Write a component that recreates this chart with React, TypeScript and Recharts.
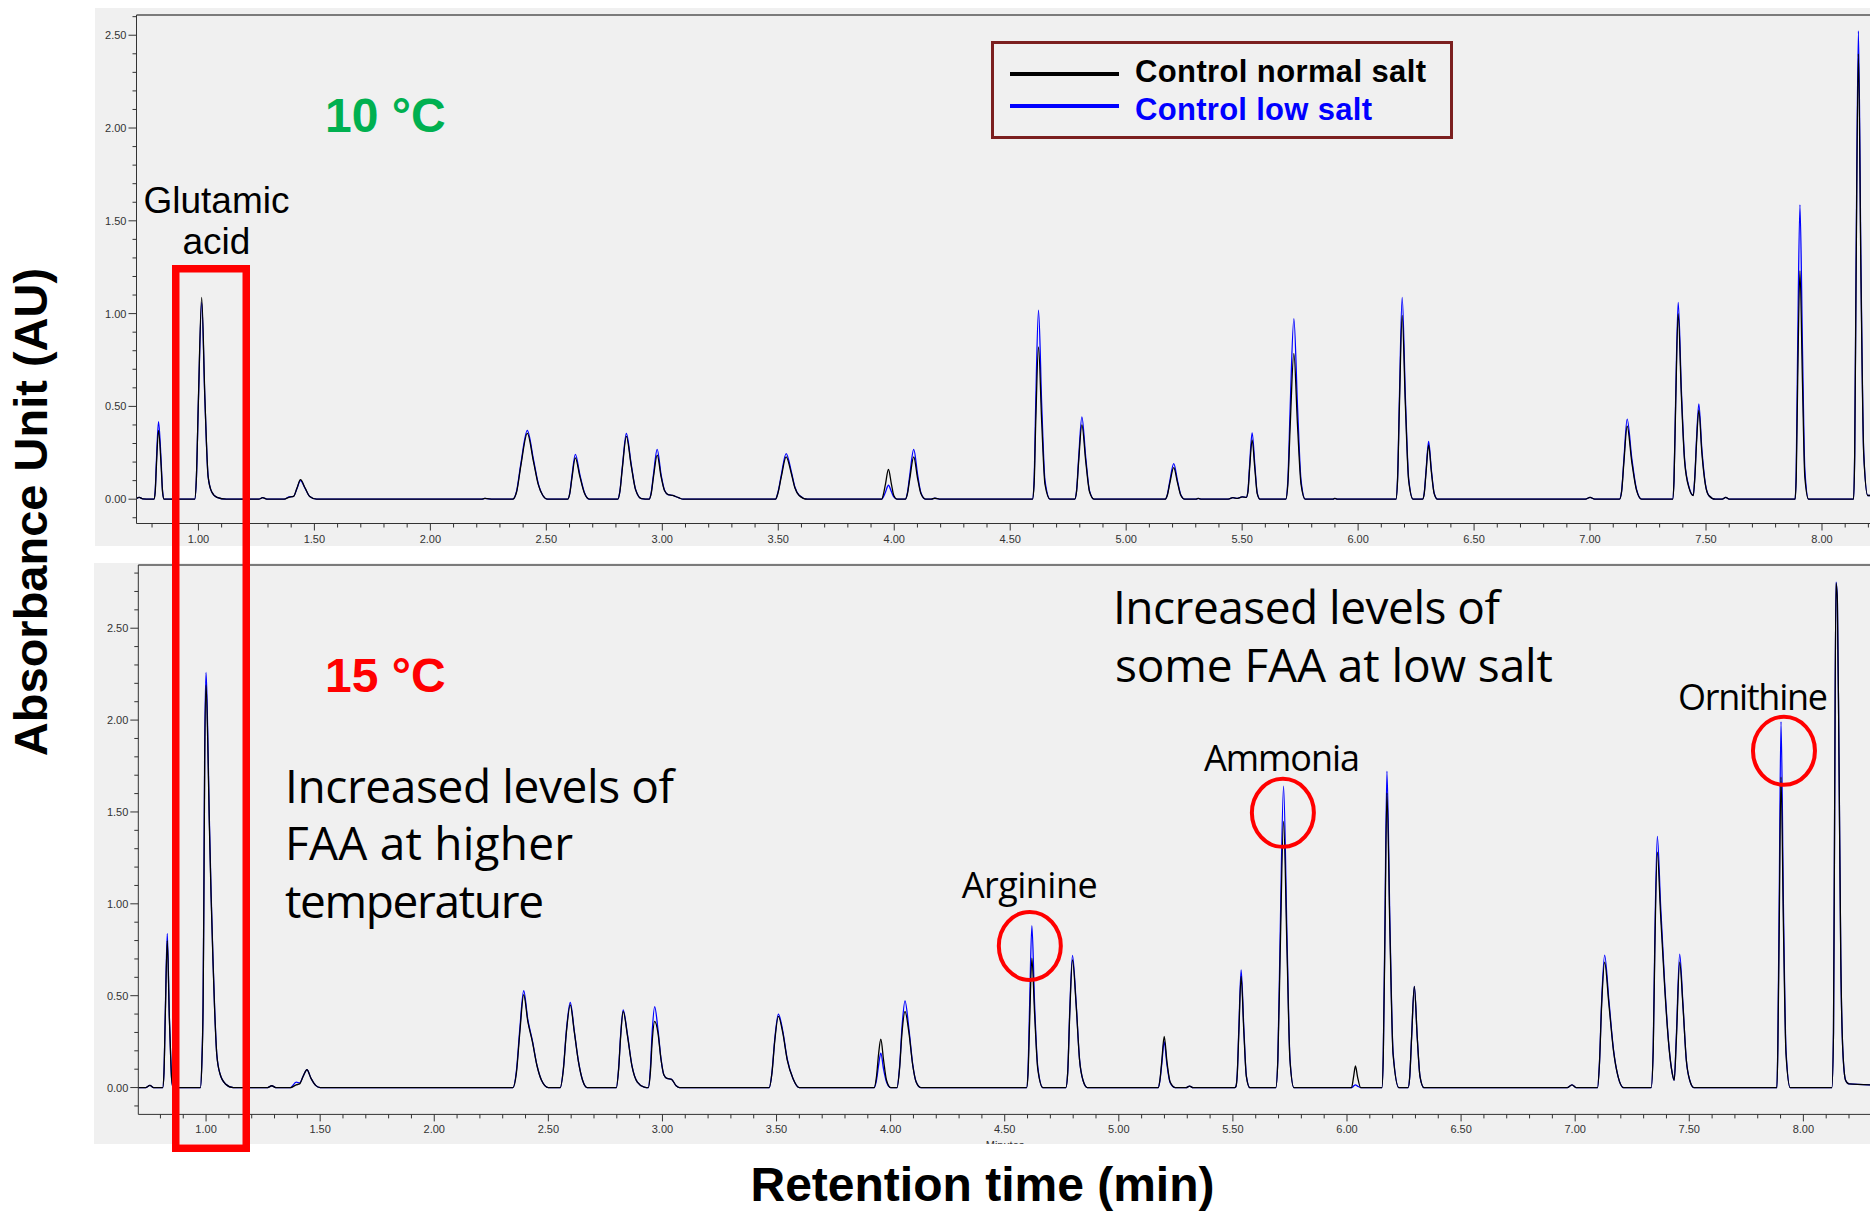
import React from 'react';
import { LineChart, Line, XAxis, YAxis, ReferenceLine, ReferenceDot, Legend } from 'recharts';

// chromatogram traces: [minutes, control normal salt, control low salt]
const trace10C = [
  [0.733, 0.004, 0.004], [0.745, 0.01, 0.01], [0.76, 0.002, 0.002], [0.79, 0, 0],
  [0.808, 0, 0], [0.8135, 0.037, 0.042], [0.819, 0.185, 0.209], [0.828, 0.37, 0.418], [0.839, 0.185, 0.209], [0.8455, 0.037, 0.042], [0.852, 0, 0],
  [0.984, 0, 0], [0.991, 0.109, 0.106], [1.0, 0.54, 0.53], [1.014, 1.087, 1.06], [1.028, 0.54, 0.53], [1.042, 0.12, 0.12], [1.057, 0.04, 0.04], [1.08, 0.01, 0.01], [1.12, 0, 0],
  [1.26, 0, 0], [1.277, 0.008, 0.008], [1.295, 0, 0],
  [1.37, 0, 0], [1.39, 0.01, 0.012], [1.41, 0.015, 0.015], [1.425, 0.06, 0.058], [1.44, 0.105, 0.1], [1.46, 0.06, 0.058], [1.48, 0.015, 0.015], [1.51, 0, 0],
  [2.22, 0, 0], [2.235, 0.004, 0.004], [2.27, 0, 0],
  [2.355, 0, 0], [2.372, 0.04, 0.045], [2.39, 0.18, 0.19], [2.418, 0.355, 0.37], [2.445, 0.2, 0.21], [2.465, 0.08, 0.085], [2.485, 0.02, 0.02], [2.505, 0, 0],
  [2.592, 0, 0], [2.601, 0.03, 0.032], [2.61, 0.11, 0.12], [2.625, 0.223, 0.241], [2.645, 0.12, 0.13], [2.665, 0.03, 0.033], [2.685, 0, 0],
  [2.808, 0, 0], [2.817, 0.04, 0.042], [2.828, 0.17, 0.177], [2.845, 0.339, 0.354], [2.866, 0.18, 0.188], [2.885, 0.05, 0.052], [2.91, 0.003, 0.003],
  [2.943, 0, 0], [2.952, 0.03, 0.034], [2.962, 0.12, 0.134], [2.978, 0.237, 0.268], [2.995, 0.12, 0.13], [3.01, 0.045, 0.047], [3.025, 0.025, 0.025], [3.045, 0.02, 0.02], [3.07, 0.008, 0.008], [3.09, 0, 0],
  [3.488, 0, 0], [3.499, 0.035, 0.038], [3.513, 0.12, 0.13], [3.534, 0.228, 0.246], [3.556, 0.14, 0.15], [3.572, 0.06, 0.064], [3.59, 0.02, 0.021], [3.625, 0, 0],
  [3.946, 0, 0], [3.954, 0.03, 0.015], [3.962, 0.08, 0.038], [3.975, 0.16, 0.075], [3.988, 0.08, 0.04], [3.998, 0.02, 0.012], [4.012, 0, 0],
  [4.048, 0, 0], [4.057, 0.03, 0.035], [4.067, 0.11, 0.13], [4.084, 0.228, 0.268], [4.101, 0.11, 0.13], [4.115, 0.03, 0.035], [4.135, 0, 0],
  [4.16, 0, 0], [4.175, 0.005, 0.005], [4.195, 0, 0],
  [4.596, 0, 0], [4.603, 0.08, 0.1], [4.61, 0.41, 0.51], [4.622, 0.82, 1.018], [4.636, 0.41, 0.5], [4.65, 0.08, 0.1], [4.672, 0, 0],
  [4.778, 0, 0], [4.786, 0.04, 0.045], [4.795, 0.2, 0.22], [4.809, 0.4, 0.444], [4.826, 0.2, 0.22], [4.842, 0.04, 0.045], [4.862, 0, 0],
  [5.168, 0, 0], [5.177, 0.02, 0.022], [5.188, 0.085, 0.096], [5.205, 0.17, 0.192], [5.222, 0.085, 0.095], [5.236, 0.02, 0.022], [5.252, 0, 0],
  [5.3, 0, 0], [5.31, 0.004, 0.004], [5.325, 0, 0],
  [5.44, 0, 0], [5.46, 0.008, 0.008], [5.48, 0.004, 0.004], [5.5, 0.012, 0.012],
  [5.518, 0.01, 0.01], [5.525, 0.04, 0.045], [5.532, 0.16, 0.18], [5.543, 0.318, 0.357], [5.555, 0.16, 0.18], [5.565, 0.03, 0.034], [5.577, 0, 0],
  [5.688, 0, 0], [5.697, 0.08, 0.1], [5.707, 0.39, 0.49], [5.723, 0.785, 0.973], [5.739, 0.39, 0.49], [5.754, 0.08, 0.1], [5.772, 0, 0],
  [5.89, 0, 0], [5.9, 0.004, 0.004], [5.912, 0, 0],
  [6.163, 0, 0], [6.17, 0.1, 0.11], [6.178, 0.5, 0.54], [6.19, 0.99, 1.087], [6.204, 0.5, 0.54], [6.218, 0.1, 0.11], [6.237, 0, 0],
  [6.278, 0, 0], [6.285, 0.03, 0.032], [6.293, 0.145, 0.156], [6.304, 0.291, 0.312], [6.316, 0.145, 0.156], [6.328, 0.03, 0.032], [6.342, 0, 0],
  [6.98, 0, 0], [7.0, 0.01, 0.01], [7.02, 0, 0],
  [7.127, 0, 0], [7.136, 0.04, 0.043], [7.146, 0.2, 0.215], [7.16, 0.393, 0.431], [7.18, 0.2, 0.22], [7.2, 0.05, 0.055], [7.222, 0, 0],
  [7.356, 0, 0], [7.362, 0.1, 0.106], [7.369, 0.5, 0.53], [7.38, 1.0, 1.06], [7.394, 0.55, 0.58], [7.408, 0.2, 0.21], [7.427, 0.06, 0.064], [7.445, 0.02, 0.022],
  [7.452, 0.12, 0.13], [7.459, 0.3, 0.32], [7.469, 0.48, 0.514], [7.482, 0.25, 0.27], [7.497, 0.08, 0.085], [7.512, 0.02, 0.02], [7.54, 0, 0],
  [7.57, 0, 0], [7.585, 0.01, 0.01], [7.6, 0, 0],
  [7.884, 0, 0], [7.889, 0.12, 0.16], [7.895, 0.62, 0.8], [7.905, 1.23, 1.586], [7.916, 0.62, 0.8], [7.926, 0.12, 0.16], [7.942, 0, 0],
  [8.136, 0, 0], [8.141, 0.24, 0.25], [8.147, 1.2, 1.26], [8.157, 2.4, 2.523], [8.168, 1.2, 1.26], [8.18, 0.24, 0.25], [8.197, 0.02, 0.02], [8.207, 0.02, 0.02],
];

const trace15C = [
  [0.703, 0, 0], [0.735, 0, 0], [0.754, 0.012, 0.012], [0.77, 0, 0],
  [0.81, 0, 0], [0.8155, 0.08, 0.084], [0.8215, 0.4, 0.42], [0.83, 0.8, 0.839], [0.839, 0.38, 0.39], [0.844, 0.2, 0.2], [0.849, 0.05, 0.05], [0.856, 0, 0],
  [0.975, 0, 0], [0.982, 0.15, 0.16], [0.987, 0.45, 0.48], [0.99, 0.94, 1.0], [0.994, 1.77, 1.85], [1.0, 2.19, 2.259], [1.007, 1.9, 1.95], [1.014, 1.45, 1.48],
  [1.022, 1.04, 1.06], [1.03, 0.7, 0.71], [1.037, 0.44, 0.45], [1.047, 0.18, 0.18], [1.061, 0.075, 0.075], [1.085, 0.02, 0.02], [1.12, 0, 0],
  [1.27, 0, 0], [1.288, 0.01, 0.01], [1.305, 0, 0],
  [1.37, 0, 0], [1.395, 0.015, 0.03], [1.41, 0.02, 0.025], [1.425, 0.06, 0.06], [1.442, 0.097, 0.097], [1.46, 0.05, 0.05], [1.48, 0.012, 0.012], [1.5, 0, 0],
  [2.345, 0, 0], [2.36, 0.08, 0.09], [2.375, 0.3, 0.32], [2.392, 0.506, 0.527], [2.41, 0.36, 0.37], [2.43, 0.25, 0.255], [2.45, 0.12, 0.122], [2.47, 0.04, 0.04], [2.5, 0, 0],
  [2.552, 0, 0], [2.566, 0.1, 0.105], [2.579, 0.3, 0.31], [2.596, 0.45, 0.463], [2.614, 0.3, 0.305], [2.632, 0.14, 0.142], [2.65, 0.04, 0.04], [2.67, 0, 0],
  [2.798, 0, 0], [2.808, 0.1, 0.105], [2.817, 0.28, 0.29], [2.828, 0.414, 0.423], [2.847, 0.28, 0.285], [2.866, 0.12, 0.122], [2.89, 0.03, 0.03], [2.92, 0.003, 0.003],
  [2.938, 0, 0], [2.947, 0.08, 0.1], [2.955, 0.25, 0.3], [2.966, 0.36, 0.441], [2.98, 0.3, 0.32], [2.994, 0.15, 0.155], [3.006, 0.07, 0.07], [3.02, 0.05, 0.05], [3.04, 0.045, 0.045], [3.06, 0.01, 0.01], [3.075, 0, 0],
  [3.468, 0, 0], [3.48, 0.08, 0.083], [3.492, 0.25, 0.26], [3.508, 0.387, 0.4], [3.527, 0.3, 0.31], [3.547, 0.15, 0.155], [3.572, 0.05, 0.05], [3.6, 0, 0],
  [3.928, 0, 0], [3.938, 0.06, 0.04], [3.947, 0.18, 0.12], [3.957, 0.263, 0.187], [3.969, 0.15, 0.1], [3.982, 0.04, 0.03], [4.0, 0, 0],
  [4.028, 0, 0], [4.039, 0.1, 0.11], [4.05, 0.3, 0.33], [4.063, 0.414, 0.472], [4.08, 0.3, 0.32], [4.097, 0.12, 0.125], [4.112, 0.03, 0.03], [4.132, 0, 0],
  [4.596, 0, 0], [4.602, 0.07, 0.09], [4.609, 0.35, 0.44], [4.619, 0.704, 0.881], [4.631, 0.4, 0.45], [4.645, 0.1, 0.11], [4.667, 0, 0],
  [4.768, 0, 0], [4.776, 0.08, 0.083], [4.785, 0.4, 0.42], [4.797, 0.695, 0.719], [4.813, 0.45, 0.46], [4.828, 0.15, 0.152], [4.843, 0.04, 0.04], [4.862, 0, 0],
  [5.173, 0, 0], [5.18, 0.04, 0.036], [5.188, 0.14, 0.125], [5.199, 0.278, 0.25], [5.211, 0.14, 0.125], [5.225, 0.03, 0.027], [5.247, 0, 0],
  [5.295, 0, 0], [5.31, 0.008, 0.008], [5.325, 0, 0],
  [5.508, 0, 0], [5.513, 0.005, 0.005], [5.519, 0.07, 0.075], [5.526, 0.3, 0.32], [5.536, 0.605, 0.641], [5.548, 0.3, 0.32], [5.559, 0.06, 0.064], [5.574, 0, 0],
  [5.688, 0, 0], [5.697, 0.15, 0.16], [5.707, 0.72, 0.82], [5.722, 1.449, 1.64], [5.737, 0.75, 0.82], [5.75, 0.15, 0.16], [5.767, 0, 0],
  [6.02, 0, 0], [6.029, 0.06, 0.008], [6.037, 0.118, 0.015], [6.046, 0.06, 0.008], [6.06, 0, 0],
  [6.153, 0, 0], [6.159, 0.17, 0.18], [6.166, 0.8, 0.86], [6.175, 1.603, 1.721], [6.188, 0.85, 0.9], [6.202, 0.18, 0.19], [6.227, 0, 0],
  [6.268, 0, 0], [6.275, 0.06, 0.06], [6.283, 0.27, 0.27], [6.295, 0.55, 0.55], [6.308, 0.27, 0.27], [6.32, 0.06, 0.06], [6.337, 0, 0],
  [6.965, 0, 0], [6.986, 0.015, 0.015], [7.005, 0, 0],
  [7.098, 0, 0], [7.106, 0.12, 0.125], [7.116, 0.45, 0.47], [7.129, 0.682, 0.721], [7.148, 0.45, 0.47], [7.168, 0.2, 0.205], [7.188, 0.06, 0.06], [7.212, 0, 0],
  [7.333, 0, 0], [7.342, 0.2, 0.22], [7.349, 0.75, 0.8], [7.36, 1.281, 1.367], [7.374, 0.95, 1.0], [7.392, 0.55, 0.57], [7.411, 0.22, 0.225], [7.425, 0.08, 0.08], [7.434, 0.04, 0.04],
  [7.443, 0.25, 0.27], [7.458, 0.682, 0.726], [7.472, 0.45, 0.46], [7.487, 0.15, 0.15], [7.502, 0.04, 0.04], [7.52, 0, 0],
  [7.884, 0, 0], [7.888, 0.2, 0.23], [7.894, 0.85, 1.0], [7.902, 1.69, 1.992], [7.913, 0.85, 0.95], [7.924, 0.18, 0.2], [7.942, 0, 0],
  [8.125, 0, 0], [8.132, 0.3, 0.3], [8.137, 1.5, 1.52], [8.143, 2.746, 2.75], [8.149, 2.65, 2.66], [8.156, 1.8, 1.81], [8.164, 0.7, 0.7], [8.173, 0.2, 0.2], [8.185, 0.04, 0.04], [8.2, 0.02, 0.02], [8.292, 0.015, 0.015],
];

const seriesNames = ['Control normal salt', 'Control low salt'];
const minuteLabels = [1.0, 1.5, 2.0, 2.5, 3.0, 3.5, 4.0, 4.5, 5.0, 5.5, 6.0, 6.5, 7.0, 7.5, 8.0];
const auLabels = [0, 0.5, 1.0, 1.5, 2.0, 2.5];

const circledPeaks = [
  { name: 'Arginine', minute: 4.61, au: 0.771 },
  { name: 'Ammonia', minute: 5.719, au: 1.495 },
  { name: 'Ornithine', minute: 7.915, au: 1.833 },
];

const tenths = (from: number, to: number) => {
  const out: number[] = [];
  for (let k = Math.round(from * 10); k <= Math.round(to * 10); k++) out.push(k / 10);
  return out;
};

const isLabelled = (v: number, labels: number[]) => labels.some((l) => Math.abs(l - v) < 1e-6);

const AXIS = '#333';
const SANS = 'Liberation Sans, Arial, sans-serif';
const HUMANIST = 'Open Sans, Noto Sans, sans-serif';

const MinuteTick = (props: any) => {
  const { x, y, payload } = props;
  const major = isLabelled(payload.value, minuteLabels);
  return (
    <g>
      <line x1={x} x2={x} y1={y} y2={y + (major ? 7 : 4)} stroke={AXIS} />
      {major && (
        <text x={x} y={y + 19} textAnchor="middle" fontSize={11} fill={AXIS} fontFamily={SANS}>
          {payload.value.toFixed(2)}
        </text>
      )}
    </g>
  );
};

const AuTick = (props: any) => {
  const { x, y, payload } = props;
  const major = isLabelled(payload.value, auLabels);
  return (
    <g>
      <line x1={x} x2={x - (major ? 8 : 4)} y1={y} y2={y} stroke={AXIS} />
      {major && (
        <text x={x - 10} y={y + 4} textAnchor="end" fontSize={11} fill={AXIS} fontFamily={SANS}>
          {payload.value.toFixed(2)}
        </text>
      )}
    </g>
  );
};

const LegendBox = () => (
  <svg width={462} height={98} style={{ display: 'block' }}>
    <rect x={1.5} y={1.5} width={459} height={95} fill="none" stroke="#7b1f1f" strokeWidth={3} />
    <line x1={19} x2={128} y1={33} y2={33} stroke="#000" strokeWidth={4} />
    <text x={144} y={41} fontSize={31} fontWeight="bold" fontFamily={SANS} fill="#000" textLength={291} lengthAdjust="spacing">{seriesNames[0]}</text>
    <line x1={19} x2={128} y1={65} y2={65} stroke="#0000ff" strokeWidth={4} />
    <text x={144} y={79} fontSize={31} fontWeight="bold" fontFamily={SANS} fill="#0000ff" textLength={237} lengthAdjust="spacing">{seriesNames[1]}</text>
  </svg>
);

const PeakRing = (props: any) => (
  <ellipse cx={props.cx} cy={props.cy} rx={31} ry={34} fill="none" stroke="#ff0000" strokeWidth={4} />
);

interface PanelProps {
  trace: number[][];
  xDomain: [number, number];
  yDomain: [number, number];
  width: number;
  height: number;
  top: number;
  left: number;
  marginTop: number;
  yAxisWidth: number;
  xAxisHeight: number;
  children?: React.ReactNode;
}

const Panel: React.FC<PanelProps> = ({ trace, xDomain, yDomain, width, height, top, left, marginTop, yAxisWidth, xAxisHeight, children }) => {
  const rows = trace.map(([minute, normal, low]) => ({ minute, normal, low }));
  return (
    <div style={{ position: 'absolute', left, top, width, height, background: '#f0f0f0' }}>
      <LineChart width={width} height={height} data={rows} margin={{ top: marginTop, right: 0, bottom: 0, left: 0 }}>
        <XAxis
          dataKey="minute"
          type="number"
          domain={xDomain}
          allowDataOverflow
          ticks={tenths(xDomain[0] + 0.05, xDomain[1])}
          interval={0}
          tickSize={0}
          tickMargin={0}
          tickLine={false}
          tick={MinuteTick}
          height={xAxisHeight}
          axisLine={{ stroke: AXIS }}
        />
        <YAxis
          type="number"
          domain={yDomain}
          allowDataOverflow
          ticks={tenths(yDomain[0] + 0.02, yDomain[1])}
          interval={0}
          tickSize={0}
          tickMargin={0}
          tickLine={false}
          tick={AuTick}
          width={yAxisWidth}
          axisLine={{ stroke: AXIS }}
        />
        <ReferenceLine y={yDomain[1]} stroke="#555" strokeWidth={1.5} ifOverflow="visible" />
        <Line type="monotone" dataKey="low" name={seriesNames[1]} stroke="#0000ff" strokeWidth={1.3} dot={false} isAnimationActive={false} />
        <Line type="monotone" dataKey="normal" name={seriesNames[0]} stroke="#000" strokeWidth={1.3} dot={false} isAnimationActive={false} />
        {children}
      </LineChart>
    </div>
  );
};

export default function App() {
  return (
    <div style={{ position: 'absolute', left: 0, top: 0, width: 1870, height: 1212, background: '#fff', overflow: 'hidden' }}>
      <Panel
        trace={trace10C}
        xDomain={[0.733, 8.207]}
        yDomain={[-0.131, 2.609]}
        left={95}
        top={8}
        width={1775}
        height={538}
        marginTop={7}
        yAxisWidth={41.5}
        xAxisHeight={22.5}
      >
        <Legend
          layout="vertical"
          align="center"
          verticalAlign="middle"
          content={() => <LegendBox />}
          wrapperStyle={{ left: 896, top: 33, width: 462, height: 98 }}
        />
      </Panel>
      <Panel
        trace={trace15C}
        xDomain={[0.703, 8.292]}
        yDomain={[-0.146, 2.844]}
        left={94}
        top={563}
        width={1776}
        height={581}
        marginTop={2}
        yAxisWidth={44.3}
        xAxisHeight={29.6}
      >
        {circledPeaks.map((p) => (
          <ReferenceDot key={p.name} x={p.minute} y={p.au} r={32} shape={PeakRing} />
        ))}
      </Panel>

      <svg width={1870} height={1212} style={{ position: 'absolute', left: 0, top: 0, pointerEvents: 'none' }}>
        <defs>
          <clipPath id="lowerPanelClip">
            <rect x={94} y={563} width={1776} height={581} />
          </clipPath>
        </defs>
        <text x={1005} y={1149} textAnchor="middle" fontSize={11} fontFamily={SANS} fill={AXIS} clipPath="url(#lowerPanelClip)">Minutes</text>

        <text x={325} y={132} fontSize={48} fontWeight="bold" fontFamily={SANS} fill="#00b050">10 °C</text>
        <text x={325} y={692} fontSize={48} fontWeight="bold" fontFamily={SANS} fill="#ff0000">15 °C</text>

        <text x={216.5} y={212.5} textAnchor="middle" fontSize={37} fontFamily={SANS} fill="#000">Glutamic</text>
        <text x={216.5} y={253.6} textAnchor="middle" fontSize={37} fontFamily={SANS} fill="#000">acid</text>

        <g fontFamily={HUMANIST} fontSize={46} fill="#000">
          <text x={285} y={803} textLength={389} lengthAdjust="spacing">Increased levels of</text>
          <text x={285} y={860} textLength={288} lengthAdjust="spacing">FAA at higher</text>
          <text x={285} y={917.5} textLength={259} lengthAdjust="spacing">temperature</text>
          <text x={1113} y={624} textLength={387} lengthAdjust="spacing">Increased levels of</text>
          <text x={1115} y={681.7} textLength={438} lengthAdjust="spacing">some FAA at low salt</text>
        </g>

        <g fontFamily={HUMANIST} fontSize={36} fill="#000">
          <text x={961.7} y={898.3} textLength={136} lengthAdjust="spacing">Arginine</text>
          <text x={1204} y={770.7} textLength={156} lengthAdjust="spacing">Ammonia</text>
          <text x={1678} y={710} textLength={150} lengthAdjust="spacing">Ornithine</text>
        </g>

        <rect x={175.75} y={268.75} width={70.5} height={879.5} fill="none" stroke="#ff0000" strokeWidth={7.5} />

        <text x={982.5} y={1201} textAnchor="middle" fontSize={48} fontWeight="bold" fontFamily={SANS} fill="#000">Retention time (min)</text>
        <text transform="translate(47,512) rotate(-90)" textAnchor="middle" fontSize={47} fontWeight="bold" fontFamily={SANS} fill="#000">Absorbance Unit (AU)</text>
      </svg>
    </div>
  );
}
